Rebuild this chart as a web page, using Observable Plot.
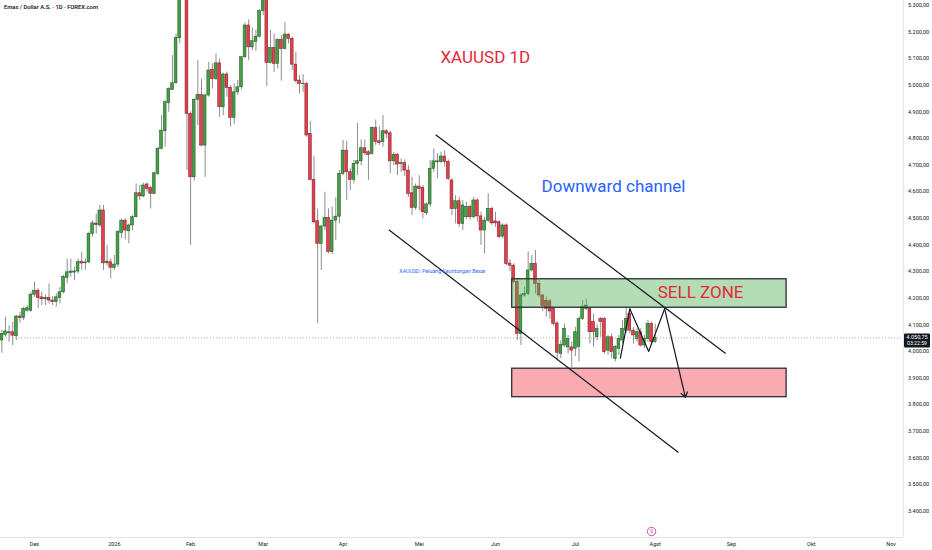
<!DOCTYPE html>
<html>
<head>
<meta charset="utf-8">
<script src="https://cdn.jsdelivr.net/npm/d3@7"></script>
<script src="https://cdn.jsdelivr.net/npm/@observablehq/plot@0.6"></script>
<style>
  html, body { margin: 0; padding: 0; background: #ffffff; }
  #chart { width: 932px; height: 550px; }
</style>
</head>
<body>
<div id="chart"></div>
<script>
// ---------- DATA ----------
// Daily candles, bar index counted in trading days from 1 Dec (bar 0)
const firstBar = -9;
const opens = [
4041,4062,4068,4072,4057,4131,4125,4153,4153,4213,4228,4203,4196,4201,4191,4185,4201,4222,4276,4294,
4296,4300,4336,4331,4334,4441,4480,4473,4529,4331,4335,4314,4326,4444,4491,4451,4473,4504,4594,4582,
4627,4613,4592,4667,4761,4827,4932,4982,5007,5176,5400,5540,4892,4654,4945,4963,4773,4961,5057,5023,
5082,4917,5040,4990,4877,4973,4992,5105,5224,5142,5162,5182,5278,5330,5084,5139,5080,5170,5136,5190,
5174,5077,5017,5004,5005,4817,4644,4489,4404,4469,4501,4373,4491,4506,4667,4754,4673,4644,4704,4714,
4763,4748,4742,4839,4789,4786,4827,4819,4714,4738,4704,4707,4679,4594,4539,4619,4614,4519,4552,4686,
4710,4711,4732,4711,4642,4535,4564,4479,4504,4542,4504,4567,4507,4454,4491,4535,4488,4485,4431,4473,
4330,4322,4260,4066,4210,4216,4304,4329,4254,4210,4190,4188,4160,4105,3990,4022,4015,4015,4010,4016,
4122,4160,4160,4110,4053,4122,4122,4003,4053,3972,4010,4041,4078,4141,4078,4047,4072,4022,4047,4103,
4035];
const highs = [
4078,4128,4097,4110,4135,4147,4166,4172,4222,4260,4235,4222,4213,4254,4206,4216,4241,4285,4347,4347,
4316,4347,4372,4347,4448,4491,4516,4548,4548,4398,4347,4360,4454,4498,4498,4479,4510,4629,4623,4632,
4632,4619,4673,4767,4886,4942,4990,5111,5192,5420,5600,5590,4900,4948,5092,5023,4967,5086,5080,5117,
5099,5045,5049,4998,5005,5017,5107,5233,5245,5215,5207,5283,5360,5370,5205,5192,5174,5186,5236,5192,
5180,5124,5036,5040,5011,4864,4732,4535,4473,4598,4535,4542,4577,4679,4792,4789,4686,4717,4857,4794,
4794,4754,4844,4869,4844,4886,4832,4827,4748,4744,4723,4719,4698,4654,4629,4660,4623,4557,4717,4761,
4742,4748,4754,4719,4648,4585,4579,4567,4560,4548,4579,4573,4523,4504,4592,4542,4523,4491,4479,4479,
4345,4329,4272,4216,4241,4373,4360,4379,4266,4215,4204,4195,4166,4110,4040,4103,4060,4035,4090,4130,
4191,4197,4166,4140,4100,4128,4128,4060,4066,4022,4060,4116,4166,4160,4090,4085,4085,4060,4116,4110,
4103];
const lows = [
3993,4053,4034,4022,4041,4106,4116,4147,4147,4203,4160,4172,4172,4178,4172,4166,4178,4216,4254,4279,
4266,4291,4304,4304,4329,4429,4441,4466,4304,4322,4272,4304,4316,4423,4419,4404,4454,4502,4567,4577,
4598,4535,4589,4660,4757,4767,4898,4980,5005,5155,5330,4679,4398,4640,4848,4768,4654,4955,4986,5017,
4879,4886,4955,4842,4852,4961,4982,5099,5092,5130,5127,5177,5261,4995,5080,5048,5061,5015,5132,5155,
5055,5007,4967,4973,4804,4642,4480,4105,4304,4454,4366,4364,4416,4479,4660,4567,4604,4629,4660,4698,
4736,4642,4736,4773,4773,4767,4798,4667,4698,4660,4673,4657,4579,4510,4529,4529,4498,4510,4542,4673,
4648,4704,4692,4642,4510,4479,4466,4454,4495,4492,4498,4485,4398,4366,4485,4473,4466,4423,4423,4322,
4300,4254,4040,4022,4204,4210,4298,4216,4204,4150,4128,4120,4095,3965,3972,4015,3990,3940,3980,3960,
4116,4153,4028,4016,4040,4053,3990,3985,3972,3960,3985,4028,4066,4066,4028,4035,4016,4010,4035,4028,
4030];
const closes = [
4066,4075,4072,4059,4131,4125,4160,4162,4213,4228,4200,4196,4201,4191,4185,4203,4222,4279,4297,4300,
4300,4335,4330,4334,4441,4481,4475,4529,4331,4337,4314,4326,4448,4491,4454,4473,4504,4594,4582,4623,
4610,4592,4669,4761,4829,4936,4986,5007,5177,5380,5560,4892,4654,4945,4963,4773,4961,5055,5023,5082,
4917,5040,4990,4877,4973,4992,5105,5224,5142,5165,5182,5278,5330,5084,5139,5080,5170,5136,5190,5174,
5077,5015,5005,5006,4811,4644,4485,4404,4469,4501,4373,4491,4506,4667,4754,4673,4644,4704,4714,4763,
4744,4738,4839,4786,4783,4827,4817,4714,4738,4702,4707,4679,4592,4539,4619,4610,4523,4552,4686,4714,
4714,4732,4711,4648,4535,4564,4479,4548,4542,4504,4567,4507,4454,4491,4535,4481,4481,4429,4473,4329,
4322,4260,4066,4210,4216,4304,4329,4254,4210,4170,4160,4150,4103,3995,4025,4085,4046,4003,4072,4122,
4166,4172,4072,4072,4085,4110,3997,4053,3997,4016,4047,4085,4122,4078,4060,4072,4022,4047,4103,4035,
4050.75];

// time axis (bar index of the first session of each month) and labels
const monthLabels = ["Des","2026","Feb","Mar","Apr","Mei","Jun","Jul","Agst","Sep","Okt","Nov"];
const monthBars   = [0, 22, 43, 63, 85, 106, 127, 149, 171, 192, 214, 236];
const priceTicks  = [3400,3500,3600,3700,3800,3900,4000,4100,4200,4300,4400,4500,4600,4700,4800,4900,5000,5100,5200,5300];
const barDomain   = [-9.37, 239.4];
const priceDomain = [3301, 5318];

const lastPrice = 4050.75;
const lastTime  = "03:22:59";
const symbolTitle = "Emas / Dollar A.S. · 1D · FOREX.com";

// drawings (bar index, price)
const zoneNames  = ["sell", "target"];
const zoneBars1  = [131.6, 131.6];
const zoneBars2  = [207.2, 207.2];
const zoneLows   = [4164, 3828];
const zoneHighs  = [4271, 3935];
const zoneColors = ["#4caf50", "#f23645"];

const channelBars1   = [110.5, 97.6];
const channelPrices1 = [4814, 4457];
const channelBars2   = [190.4, 177.4];
const channelPrices2 = [3992, 3620];

const pathBars   = [161.4, 164.0, 169.2, 173.6, 179.3];
const pathPrices = [3975, 4160, 4000, 4160, 3828];

const labelTexts  = ["XAUUSD 1D", "Downward channel", "SELL ZONE"];
const labelBars   = [124.2, 159.5, 183.5];
const labelPrices = [5104, 4619, 4221];
const labelColors = ["#e3283b", "#2962ff", "#e3283b"];

const ideaText  = "XAUUSD: Peluang Keuntungan Besar";
const ideaBar   = 100.5;
const ideaPrice = 4301;

const eventBar = 170;

// ---------- BUILD ----------
const candles = opens.map((o, i) => ({
  bar: firstBar + i, open: o, high: highs[i], low: lows[i], close: closes[i]
}));
const zones = zoneNames.map((n, i) => ({
  name: n, b1: zoneBars1[i], b2: zoneBars2[i], lo: zoneLows[i], hi: zoneHighs[i], color: zoneColors[i]
}));
const channels = channelBars1.map((b, i) => ({
  b1: b, p1: channelPrices1[i], b2: channelBars2[i], p2: channelPrices2[i]
}));
const path = pathBars.map((b, i) => ({ bar: b, price: pathPrices[i] }));
const lastSeg = [{ b1: pathBars[3], p1: pathPrices[3], b2: pathBars[4], p2: pathPrices[4] }];
const labels = labelTexts.map((t, i) => ({ text: t, bar: labelBars[i], price: labelPrices[i], color: labelColors[i] }));

const idLocale = d3.formatLocale({ decimal: ",", thousands: ".", grouping: [3], currency: ["", ""] });
const fmtPrice = idLocale.format(",.2f");
const monthMap = new Map(monthBars.map((b, i) => [b, monthLabels[i]]));

const UP = "#43a047", UP_EDGE = "#275e2b";
const DN = "#e3404e", DN_EDGE = "#8e1f2a";
const FONT = "Roboto, 'Noto Sans', sans-serif";

function priceTag(index, scales, values, dimensions) {
  const y = scales.y(lastPrice);
  const x0 = dimensions.width - dimensions.marginRight;
  const g = d3.create("svg:g");
  g.append("rect").attr("x", x0 + 1).attr("y", y - 4).attr("width", 26).attr("height", 14)
    .attr("fill", "#131722").attr("rx", 1);
  g.append("text").attr("x", x0 + 14).attr("y", y + 0.5).attr("text-anchor", "middle")
    .attr("dominant-baseline", "middle").attr("fill", "#ffffff").attr("font-size", 5.6)
    .attr("font-family", FONT).text(fmtPrice(lastPrice));
  g.append("text").attr("x", x0 + 14).attr("y", y + 6.6).attr("text-anchor", "middle")
    .attr("dominant-baseline", "middle").attr("fill", "#ffffff").attr("font-size", 5.2)
    .attr("font-family", FONT).text(lastTime);
  return g.node();
}

const chart = Plot.plot({
  width: 932,
  height: 550,
  marginTop: 0,
  marginLeft: 0,
  marginRight: 29,
  marginBottom: 13,
  style: { fontFamily: FONT, fontSize: "5.5px", color: "#131722", background: "#ffffff" },
  x: {
    domain: barDomain, axis: "bottom", ticks: monthBars,
    tickFormat: b => monthMap.get(b), tickSize: 0, tickPadding: 5, label: null
  },
  y: {
    domain: priceDomain, axis: "right", ticks: priceTicks,
    tickFormat: fmtPrice, tickSize: 0, tickPadding: 4.5, label: null
  },
  marks: [
    // axis borders
    Plot.ruleY([priceDomain[0]], { stroke: "#e0e3eb", strokeWidth: 1 }),
    Plot.ruleX([barDomain[1]], { stroke: "#e0e3eb", strokeWidth: 1 }),
    // last price dotted line
    Plot.ruleY([lastPrice], { stroke: "#9598a1", strokeWidth: 0.8, strokeDasharray: "1,2" }),
    // wicks
    Plot.ruleX(candles, { x: "bar", y1: "low", y2: "high", stroke: "#8e8e8e", strokeWidth: 1, clip: true }),
    // bodies
    Plot.rect(candles, {
      x1: d => d.bar - 0.38, x2: d => d.bar + 0.38,
      y1: d => Math.min(d.open, d.close), y2: d => Math.max(d.open, d.close),
      fill: d => d.close >= d.open ? UP : DN,
      stroke: d => d.close >= d.open ? UP_EDGE : DN_EDGE,
      strokeWidth: 0.6, clip: true
    }),
    // zones
    Plot.rect(zones, {
      x1: "b1", x2: "b2", y1: "lo", y2: "hi",
      fill: "color", fillOpacity: 0.42, stroke: "#2a2e39", strokeWidth: 1.3
    }),
    // channel lines
    Plot.link(channels, { x1: "b1", y1: "p1", x2: "b2", y2: "p2", stroke: "#131722", strokeWidth: 1.2 }),
    // projected path
    Plot.line(path.slice(0, -1), { x: "bar", y: "price", stroke: "#131722", strokeWidth: 1.2 }),
    Plot.arrow(lastSeg, {
      x1: "b1", y1: "p1", x2: "b2", y2: "p2", stroke: "#131722", strokeWidth: 1.2,
      headLength: 7, headAngle: 70
    }),
    // text labels
    Plot.text(labels, {
      x: "bar", y: "price", text: "text", fill: "color", fontSize: 17,
      fontFamily: FONT, textAnchor: "middle", lineAnchor: "middle"
    }),
    Plot.text([ideaText], {
      x: ideaBar, y: ideaPrice, text: d => d, fill: "#2962ff", fontSize: 5.3,
      textAnchor: "start", lineAnchor: "middle", fontFamily: FONT
    }),
    // symbol title
    Plot.text([symbolTitle], {
      frameAnchor: "top-left", text: d => d, dx: 3.5, dy: 6.7, lineAnchor: "middle",
      textAnchor: "start", fontSize: 5.8, fontWeight: 600, fill: "#131722", fontFamily: FONT
    }),
    // event marker on the time axis
    Plot.dot([eventBar], {
      x: d => d, frameAnchor: "bottom", dy: -6, r: 4.2,
      stroke: "#d1399e", fill: "#ffffff", strokeWidth: 0.9
    }),
    Plot.text([eventBar], {
      x: d => d, frameAnchor: "bottom", dy: -6, text: () => "$",
      fill: "#d1399e", fontSize: 5, lineAnchor: "middle"
    }),
    // last price tag
    priceTag
  ]
});

document.getElementById("chart").appendChild(chart);
</script>
</body>
</html>
